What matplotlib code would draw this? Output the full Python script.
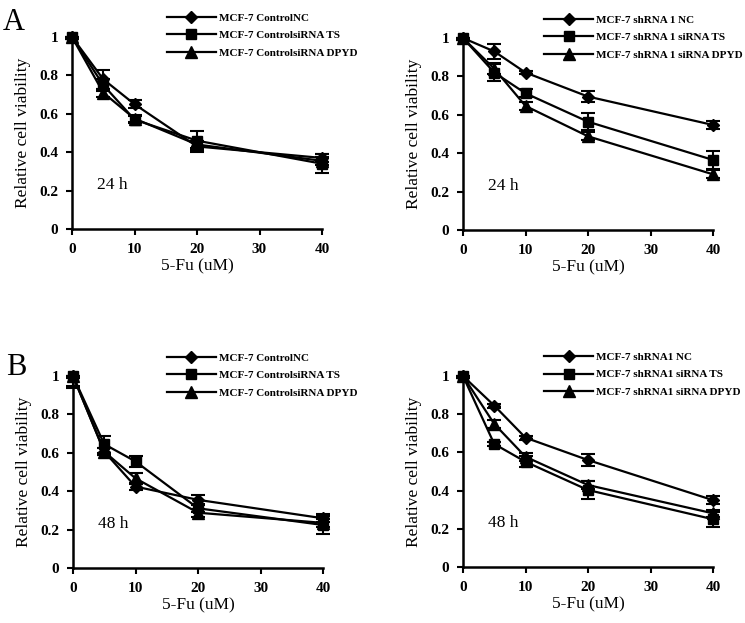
import matplotlib
matplotlib.use("Agg")
import matplotlib.pyplot as plt

plt.rcParams['font.family'] = ['Liberation Serif', 'DejaVu Serif']

doses = [0, 5, 10, 20, 40]

# Panel A left: 24 h, control
a1_nc = [1.0, 0.78, 0.65, 0.43, 0.37]
a1_nc_err = [0.01, 0.05, 0.02, 0.03, 0.02]
a1_ts = [1.0, 0.75, 0.57, 0.46, 0.34]
a1_ts_err = [0.01, 0.03, 0.02, 0.05, 0.05]
a1_dp = [1.0, 0.71, 0.575, 0.44, 0.355]
a1_dp_err = [0.01, 0.02, 0.02, 0.02, 0.02]

# Panel A right: 24 h, shRNA 1
a2_nc = [1.0, 0.93, 0.82, 0.695, 0.547]
a2_nc_err = [0.01, 0.04, 0.01, 0.03, 0.02]
a2_ts = [1.0, 0.82, 0.712, 0.564, 0.365]
a2_ts_err = [0.01, 0.045, 0.02, 0.045, 0.045]
a2_dp = [1.0, 0.84, 0.646, 0.488, 0.29]
a2_dp_err = [0.01, 0.03, 0.02, 0.02, 0.02]

# Panel B left: 48 h, control
b1_nc = [1.0, 0.606, 0.424, 0.355, 0.259]
b1_nc_err = [0.05, 0.02, 0.02, 0.025, 0.02]
b1_ts = [1.0, 0.645, 0.555, 0.311, 0.224]
b1_ts_err = [0.065, 0.045, 0.03, 0.02, 0.045]
b1_dp = [1.0, 0.606, 0.467, 0.288, 0.235]
b1_dp_err = [0.01, 0.02, 0.03, 0.02, 0.02]

# Panel B right: 48 h, shRNA 1
b2_nc = [1.0, 0.845, 0.677, 0.56, 0.35]
b2_nc_err = [0.01, 0.01, 0.01, 0.03, 0.02]
b2_ts = [1.0, 0.644, 0.551, 0.403, 0.25]
b2_ts_err = [0.01, 0.01, 0.03, 0.045, 0.04]
b2_dp = [1.0, 0.749, 0.577, 0.429, 0.281]
b2_dp_err = [0.01, 0.02, 0.02, 0.02, 0.02]

labels_ctrl = ['MCF-7 ControlNC', 'MCF-7 ControlsiRNA TS', 'MCF-7 ControlsiRNA DPYD']
labels_sh_a = ['MCF-7 shRNA 1 NC', 'MCF-7 shRNA 1 siRNA TS', 'MCF-7 shRNA 1 siRNA DPYD']
labels_sh_b = ['MCF-7 shRNA1 NC', 'MCF-7 shRNA1 siRNA TS', 'MCF-7 shRNA1 siRNA DPYD']

xticks = [0, 10, 20, 30, 40]
yticks = [0, 0.2, 0.4, 0.6, 0.8, 1.0]
yticklabels = ['0', '0.2', '0.4', '0.6', '0.8', '1']

fig = plt.figure(figsize=(7.45, 6.23), dpi=100)
W, H = 745, 623

def make_ax(left_px, top_px, right_px, bottom_px):
    return fig.add_axes([left_px / W, 1 - bottom_px / H,
                         (right_px - left_px) / W, (bottom_px - top_px) / H])

panels = [
    (make_ax(72, 37, 322, 229), (a1_nc, a1_nc_err, a1_ts, a1_ts_err, a1_dp, a1_dp_err), labels_ctrl, '24 h', (0.38, 1.125)),
    (make_ax(463, 38, 713, 230), (a2_nc, a2_nc_err, a2_ts, a2_ts_err, a2_dp, a2_dp_err), labels_sh_a, '24 h', (0.325, 1.12)),
    (make_ax(73, 376, 323, 568), (b1_nc, b1_nc_err, b1_ts, b1_ts_err, b1_dp, b1_dp_err), labels_ctrl, '48 h', (0.376, 1.12)),
    (make_ax(463, 376, 713, 567), (b2_nc, b2_nc_err, b2_ts, b2_ts_err, b2_dp, b2_dp_err), labels_sh_b, '48 h', (0.325, 1.125)),
]

markers = [('D', 6.5), ('s', 7.5), ('^', 8)]

for ax, data, labels, tlabel, legpos in panels:
    handles = []
    for i, (m, ms) in enumerate(markers):
        y = data[2 * i]
        e = data[2 * i + 1]
        # at dose 0 (normalised to 1) only the lower bar is shown
        upper = [0 if d == 0 else v for d, v in zip(doses, e)]
        ax.errorbar(doses, y, yerr=[e, upper], color='black', ecolor='black', elinewidth=1.5,
                    capsize=5, capthick=1.5, clip_on=False, zorder=3, fmt='none')
        h, = ax.plot(doses, y, color='black', lw=1.6, marker=m, markersize=ms,
                     clip_on=False, zorder=4)
        handles.append(h)
    ax.set_xlim(0, 40)
    ax.set_ylim(0, 1)
    ax.set_xticks(xticks)
    ax.set_yticks(yticks)
    ax.set_yticklabels(yticklabels)
    for lab in ax.get_xticklabels() + ax.get_yticklabels():
        lab.set_fontweight('bold')
        lab.set_fontsize(11)
    ax.tick_params(axis='both', direction='out', length=4, width=1.5, pad=6)
    ax.spines['top'].set_visible(False)
    ax.spines['right'].set_visible(False)
    ax.spines['left'].set_linewidth(1.8)
    ax.spines['bottom'].set_linewidth(1.8)
    ax.set_xlabel('5-Fu (uM)', fontsize=12.5, labelpad=2)
    ax.set_ylabel('Relative cell viability', fontsize=12.5, labelpad=6)
    ax.text(4, 0.23, tlabel, fontsize=12.5, ha='left', va='center')
    leg = ax.legend(handles, labels, loc='upper left', bbox_to_anchor=legpos,
                    frameon=False, borderpad=0, borderaxespad=0,
                    handlelength=4.4, handletextpad=0.3, labelspacing=0.7,
                    prop={'family': 'Liberation Serif', 'weight': 'bold', 'size': 8})
    leg.set_in_layout(False)

fig.text(3 / W, 1 - 30 / H, 'A', fontsize=22, ha='left', va='baseline')
fig.text(6 / W, 1 - 375 / H, 'B', fontsize=22, ha='left', va='baseline')

fig.savefig('out.png', dpi=100)
